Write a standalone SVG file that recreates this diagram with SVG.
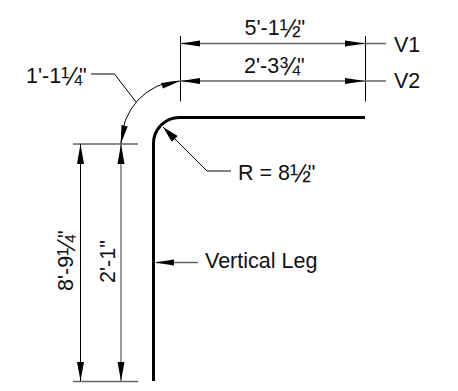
<svg xmlns="http://www.w3.org/2000/svg" width="458" height="391" viewBox="0 0 458 391">
<style>
text{font-family:"Liberation Sans",Arial,sans-serif;font-size:21.5px;fill:#111}
.fr{font-size:25px;letter-spacing:-3px}
.t{fill:none;stroke:#000;stroke-width:1}
.g{fill:none;stroke:#666;stroke-width:1.3}
.h{fill:none;stroke:#000;stroke-width:3}
.a{fill:#000;stroke:none}
</style>
<rect width="458" height="391" fill="#fff"/>
<g id="connectors">
<path class="h" d="M365 117.500H180A26 26 0 0 0 153.500 143.500V381"/>
<path class="t" d="M180.500 36V101.500M365.500 36V101.500"/>
<path class="g" d="M180 43.500H386M180 81H386"/>
<path class="t" d="M180 81A60 63 0 0 0 121 144"/>
<path class="g" d="M73 144H138M73 381.500H138"/>
<path class="t" d="M80.500 144V381"/>
<path class="g" d="M121 144V381"/>
<path class="t" d="M91 74H114.500L136 102"/>
<path class="t" d="M163 127L207 171H231"/>
<path class="g" d="M156 262.500H198"/>
<path class="a" d="M181 43.500L200 40.500V46.500ZM365 43.500L345 40.500V46.500ZM181 81L200 78V84ZM365 81L345 78V84Z"/>
<path class="a" d="M180 81L161 83L163 88.500ZM120.700 144L121.500 125L127.700 126.500ZM80.500 144L77 164H84ZM121 144L117.500 164H124.500ZM80.500 381L77 362H84ZM121 381L117.500 362H124.500Z"/>
<path class="a" d="M163 127L177.700 136L171.700 141.700ZM155 262.500L174 259.500V265.500Z"/>
</g>
<g id="label-v1"><text x="394" y="51.500">V1</text></g>
<g id="label-v2"><text x="394" y="88">V2</text></g>
<g id="label-arc"><text x="26" y="83">1'-1<tspan class="fr" y="85">¼</tspan><tspan y="83">"</tspan></text></g>
<g id="label-top"><text x="244.500" y="35">5'-1<tspan class="fr" y="37">½</tspan><tspan y="35">"</tspan></text></g>
<g id="label-second"><text x="244" y="73">2'-3<tspan class="fr" y="75">¾</tspan><tspan y="73">"</tspan></text></g>
<g id="label-radius"><text x="238" y="180">R = 8<tspan class="fr" y="182">½</tspan><tspan y="180">"</tspan></text></g>
<g id="label-leg"><text x="205" y="268">Vertical Leg</text></g>
<g id="label-v-outer" transform="translate(72.500 291) rotate(-90)"><text x="0" y="0">8'-9<tspan class="fr" y="2">¼</tspan><tspan y="0">"</tspan></text></g>
<g id="label-v-inner" transform="translate(115 283) rotate(-90)"><text x="0" y="0">2'-1"</text></g>
</svg>
